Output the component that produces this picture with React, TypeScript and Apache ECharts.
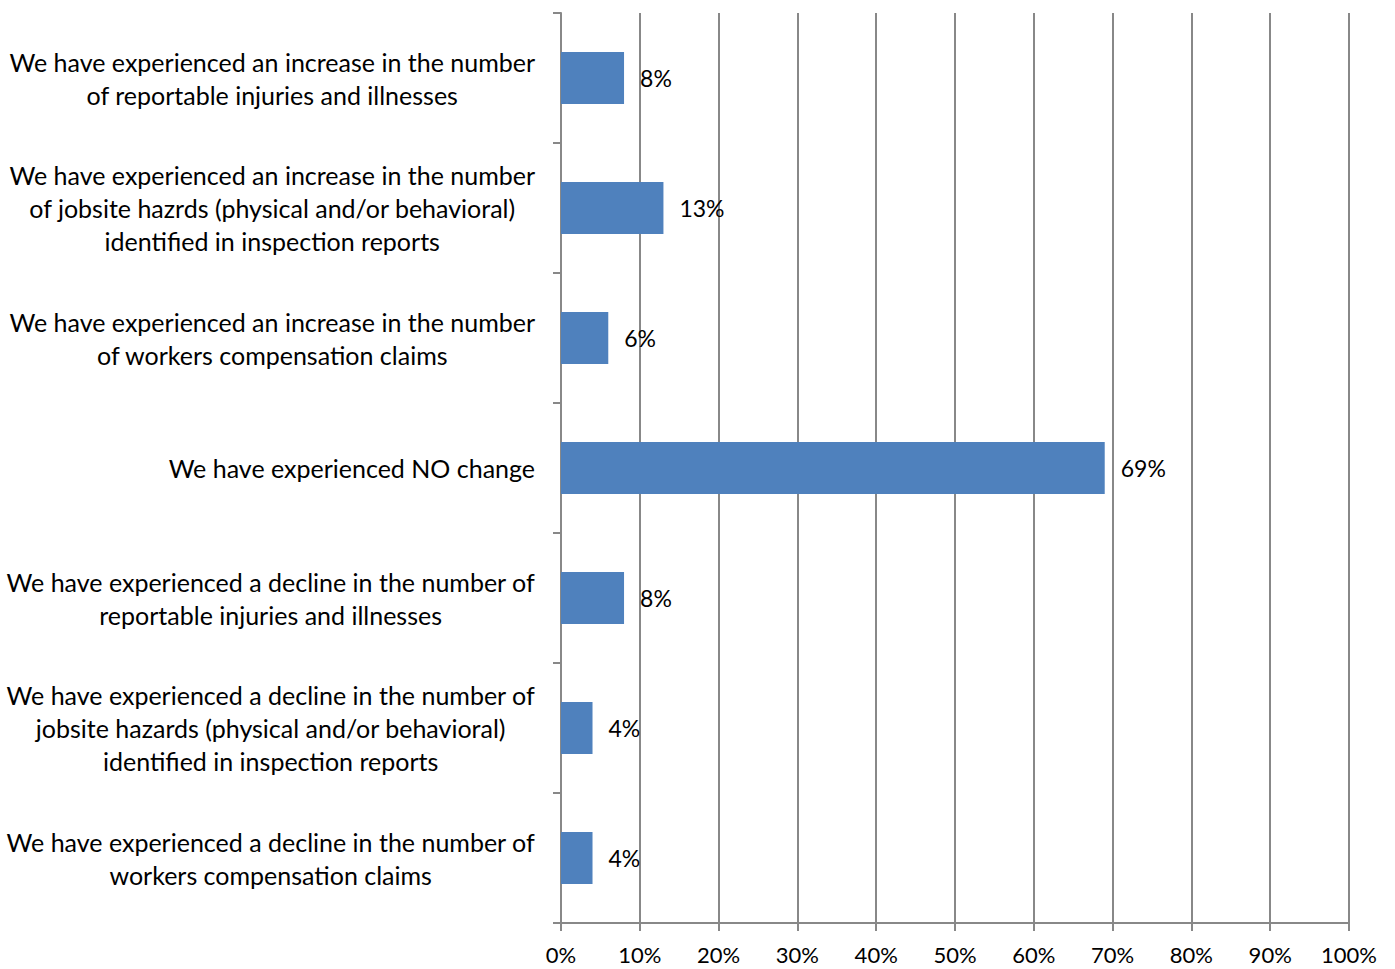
import React, { useEffect, useRef } from "react";
import * as echarts from "echarts";

const categories = [
  "We have experienced an increase in the number\nof reportable injuries and illnesses",
  "We have experienced an increase in the number\nof jobsite hazrds (physical and/or behavioral)\nidentified in inspection reports",
  "We have experienced an increase in the number\nof workers compensation claims",
  "We have experienced NO change",
  "We have experienced a decline in the number of\nreportable injuries and illnesses",
  "We have experienced a decline in the number of\njobsite hazards (physical and/or behavioral)\nidentified in inspection reports",
  "We have experienced a decline in the number of\nworkers compensation claims",
];
const values = [8, 13, 6, 69, 8, 4, 4];

const FONT = "Lato";

export default function App() {
  const ref = useRef<HTMLDivElement>(null);
  useEffect(() => {
    document.body.style.margin = "0";
    document.body.style.overflow = "hidden";
    const chart = echarts.init(ref.current!, null, { renderer: "svg" });
    chart.setOption({
      animation: false,
      grid: { left: 561, right: 46, top: 13, bottom: 46, containLabel: false },
      xAxis: {
        type: "value",
        min: 0,
        max: 100,
        interval: 10,
        axisLine: { show: true, lineStyle: { color: "#888888", width: 2 } },
        axisTick: { show: true, length: 8, lineStyle: { color: "#888888", width: 2 } },
        splitLine: { show: true, lineStyle: { color: "#888888", width: 2 } },
        axisLabel: {
          formatter: "{value}%",
          color: "#000",
          fontFamily: FONT,
          fontSize: 22,
          margin: 20,
        },
      },
      yAxis: {
        type: "category",
        inverse: true,
        data: categories,
        axisLine: { show: true, lineStyle: { color: "#888888", width: 2 } },
        axisTick: { show: true, length: 8, lineStyle: { color: "#888888", width: 2 } },
        axisLabel: {
          margin: 26,
          formatter: (v: string) => "{c|" + v + "}",
          rich: {
            c: {
              align: "center",
              color: "#000",
              fontFamily: FONT,
              fontSize: 25,
              lineHeight: 33,
            },
          },
        },
      },
      series: [
        {
          type: "bar",
          data: values,
          barWidth: "40%",
          itemStyle: { color: "#4f81bd" },
          label: {
            show: true,
            position: "right",
            distance: 16,
            formatter: "{c}%",
            color: "#000",
            fontFamily: FONT,
            fontSize: 23,
          },
        },
      ],
    });
    return () => chart.dispose();
  }, []);
  return <div ref={ref} style={{ width: 1395, height: 969 }} />;
}
